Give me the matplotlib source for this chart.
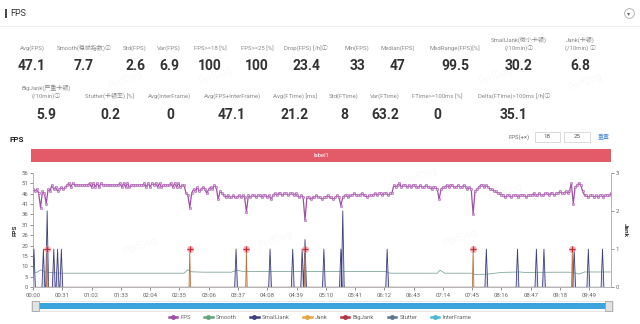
import numpy as np
import matplotlib
matplotlib.use('Agg')
import matplotlib.pyplot as plt
from matplotlib.patches import Rectangle
from matplotlib.lines import Line2D

plt.rcParams['font.family'] = ['Roboto', 'Noto Sans CJK SC', 'DejaVu Sans']

W, H = 640, 324

# ---- summary numbers (top panel) ----
row1_labels = ['Avg(FPS)', 'Smooth(稳帧指数)ⓘ', 'Std(FPS)', 'Var(FPS)', 'FPS>=18 [%]',
               'FPS>=25 [%]', 'Drop(FPS) [/h]ⓘ', 'Min(FPS)', 'Median(FPS)',
               'MedRange(FPS)[%]', 'SmallJank(微小卡顿)\n(/10min)ⓘ', 'Jank(卡顿)\n(/10min) ⓘ']
row1_values = ['47.1', '7.7', '2.6', '6.9', '100', '100', '23.4', '33', '47', '99.5', '30.2', '6.8']

row2_labels = ['BigJank(严重卡顿)\n(/10min)ⓘ', 'Stutter(卡顿率) [%]', 'Avg(InterFrame)',
               'Avg(FPS+InterFrame)', 'Avg(FTime) [ms]', 'Std(FTime)', 'Var(FTime)',
               'FTime>=100ms [%]', 'Delta(FTime)>100ms [/h]ⓘ']
row2_values = ['5.9', '0.2', '0', '47.1', '21.2', '8', '63.2', '0', '35.1']

# ---- FPS series, one sample every 2 s (0 .. 612 s) ----
fps = [
    48, 47, 48, 46, 39, 47, 46, 41, 48, 47, 50, 48, 49, 47, 48,
    49, 48, 49, 50, 51, 49, 51, 50, 50, 50, 50, 50, 50, 50, 50,
    51, 49, 51, 49, 51, 49, 51, 50, 50, 50, 50, 50, 50, 50, 50,
    50, 51, 49, 51, 49, 51, 49, 50, 50, 50, 50, 50, 50, 50, 51,
    49, 51, 49, 51, 50, 51, 49, 51, 49, 50, 50, 50, 50, 51, 49,
    51, 49, 51, 49, 50, 50, 46, 45, 39, 46, 48, 47, 49, 47, 48,
    49, 48, 46, 48, 49, 48, 50, 49, 43, 47, 46, 45, 44, 45, 44,
    44, 45, 44, 44, 45, 44, 45, 44, 37, 45, 44, 45, 45, 44, 45,
    45, 44, 45, 45, 44, 45, 43, 45, 46, 45, 46, 46, 45, 46, 46,
    45, 46, 46, 45, 46, 45, 44, 45, 44, 33, 44, 44, 43, 44, 44,
    45, 44, 44, 43, 44, 44, 45, 44, 44, 43, 44, 45, 44, 40, 44,
    45, 45, 44, 45, 45, 46, 45, 45, 45, 46, 45, 45, 44, 45, 45,
    45, 46, 45, 46, 46, 45, 46, 46, 45, 46, 46, 50, 49, 50, 51,
    49, 50, 50, 49, 50, 49, 50, 50, 49, 49, 50, 49, 49, 50, 49,
    49, 48, 49, 49, 48, 43, 48, 49, 49, 50, 49, 50, 50, 49, 49,
    50, 49, 49, 50, 49, 48, 49, 48, 36, 47, 48, 49, 50, 50, 49,
    50, 49, 48, 48, 47, 47, 46, 46, 45, 45, 44, 45, 45, 44, 45,
    45, 45, 44, 45, 45, 45, 44, 45, 45, 45, 46, 45, 45, 46, 45,
    45, 46, 46, 45, 46, 46, 45, 46, 46, 47, 46, 46, 47, 46, 47,
    51, 41, 49, 50, 51, 50, 47, 45, 45, 44, 45, 45, 44, 45, 44,
    45, 45, 44, 45, 45, 45, 46,
]
fps_t = np.arange(len(fps)) * 2

# Smooth (left axis), read at irregular times
smooth_t = [0, 4, 8, 12, 20, 30, 100, 160, 164, 168, 180, 210, 216, 222, 300, 374, 378, 428, 431, 436,
            464, 468, 480, 497, 516, 520, 566, 572, 578, 584, 612]
smooth_v = [7.5, 7.3, 8.5, 7.5, 7.2, 6.9, 6.9, 6.9, 8.6, 7.6, 7.4, 7.4, 8.3, 7.8, 7.7, 7.7, 6.9, 6.9, 8.4, 6.9,
            6.9, 6.3, 6.4, 7.3, 7.5, 7.3, 7.4, 7.3, 6.5, 7.5, 7.5]

# Jank events (right axis): time in s, count
small_jank_t = [1, 11, 15, 22, 26, 30, 215, 251, 275, 285, 288, 308, 326, 328, 375,
                480, 513, 533, 541, 573, 588, 603]
small_jank_n = [1, 1, 2, 1, 1, 1, 1, 1, 1, 1, 1.25, 1, 1, 2, 1,
                1, 1, 1, 1, 1, 1, 1]
jank_t = [15, 166, 226, 288, 466, 571]
big_jank_t = [15, 166, 226, 288, 466, 571]

time_labels = ['00:00', '00:31', '01:02', '01:33', '02:04', '02:35', '03:06', '03:37', '04:08', '04:39',
               '05:10', '05:41', '06:12', '06:43', '07:14', '07:45', '08:16', '08:47', '09:18', '09:49']
fps_tick_labels = ['0', '5', '10', '15', '20', '26', '31', '36', '41', '46', '51', '56']

series_names = ['FPS', 'Smooth', 'SmallJank', 'Jank', 'BigJank', 'Stutter', 'InterFrame']
series_colors = ['#a14ea6', '#62a77a', '#3d3f7f', '#e6a542', '#b8323f', '#5f7690', '#4cb6dc']


def fx(x):
    return x / W


def fy(y):
    return 1 - y / H


fig = plt.figure(figsize=(6.4, 3.24), dpi=100)
fig.patch.set_facecolor('white')

# ---- header ----
fig.add_artist(Rectangle((fx(5), fy(18)), 1.5 / W, 9 / H, transform=fig.transFigure,
                         color='#4a4a4a', lw=0))
fig.text(fx(10), fy(13.5), 'FPS', fontsize=6.5, color='#333', va='center', ha='left')
fig.add_artist(Line2D([0, 1], [fy(26), fy(26)], transform=fig.transFigure, color='#eeeeee', lw=0.8))
fig.add_artist(Line2D([fx(629)], [fy(13)], transform=fig.transFigure, marker='o', ms=7,
                      mfc='none', mec='#aaaaaa', mew=0.6))
fig.text(fx(629), fy(13.3), '▾', fontsize=4.5, color='#666', ha='center', va='center')

# ---- stats ----
x_row1 = [32, 84, 135, 169, 210, 257, 306, 357, 398, 455, 519, 580]
x_row2 = [46, 110, 170, 232, 295, 344, 385, 437, 514]
for lab, val, x in zip(row1_labels, row1_values, x_row1):
    fig.text(fx(x), fy(51), lab, fontsize=4.3, color='#888', ha='center', va='bottom',
             linespacing=1.35)
    fig.text(fx(x), fy(66.5), val, fontsize=10, color='#333', weight='bold',
             ha='center', va='center')
for lab, val, x in zip(row2_labels, row2_values, x_row2):
    fig.text(fx(x), fy(99.5), lab, fontsize=4.3, color='#888', ha='center', va='bottom',
             linespacing=1.35)
    fig.text(fx(x), fy(115), val, fontsize=10, color='#333', weight='bold',
             ha='center', va='center')

# ---- chart header ----
fig.text(fx(10), fy(139), 'FPS', fontsize=5.8, color='#222', weight='bold', va='center')
fig.text(fx(530), fy(137), 'FPS(+×)', fontsize=4.2, color='#666', ha='right', va='center')
for x0, x1, txt in [(535, 560, '18'), (564, 590, '25')]:
    fig.add_artist(Rectangle((fx(x0), fy(142)), (x1 - x0) / W, 10 / H, transform=fig.transFigure,
                             facecolor='white', edgecolor='#cccccc', lw=0.5))
    fig.text(fx((x0 + x1) / 2), fy(137), txt, fontsize=4.5, color='#555', ha='center', va='center')
fig.text(fx(604), fy(137), '重置', fontsize=4.3, color='#4f8fd6', ha='center', va='center')

fig.add_artist(Rectangle((fx(30.5), fy(162)), (611 - 30.5) / W, 13 / H, transform=fig.transFigure,
                         color='#e35b69', lw=0))
fig.text(fx(321), fy(155.5), 'label1', fontsize=4.2, color='white', ha='center', va='center')

# ---- main plot ----
ax = fig.add_axes([fx(33), fy(287.3), 578 / W, 114.6 / H])
ax.set_xlim(0, 612)
ax.set_ylim(0, 56.1)

ax.plot(smooth_t, smooth_v, color='#7fa898', lw=0.6, zorder=2)
ax.plot(fps_t, fps, color=series_colors[0], lw=0.9, marker='o', ms=1.7,
        mfc='#e2b6e4', mec=series_colors[0], mew=0.35, zorder=3)

tick_secs = [int(s[:2]) * 60 + int(s[3:]) for s in time_labels]
ax.set_xticks(tick_secs)
ax.set_xticklabels(time_labels)
ax.set_yticks([i * 5.1 for i in range(len(fps_tick_labels))])
ax.set_yticklabels(fps_tick_labels)
ax.tick_params(axis='both', labelsize=4.3, colors='#666', length=2, width=0.5, pad=1.5)
ax.tick_params(axis='x', pad=2)
ax.set_ylabel('FPS', fontsize=4.6, weight='bold', color='#333', labelpad=3)
for s in ['top', 'right']:
    ax.spines[s].set_visible(False)
for s in ['left', 'bottom']:
    ax.spines[s].set_color('#aaaaaa')
    ax.spines[s].set_linewidth(0.6)

ax2 = ax.twinx()
ax2.set_ylim(0, 3)
ax2.set_xlim(0, 612)

# spikes: small triangles around each event
sx, sy = [], []
for t, n in zip(small_jank_t, small_jank_n):
    sx += [t - 1.5, t, t + 1.5]
    sy += [0, n, 0]
ax2.fill(sx, sy, color='#b9bbe6', alpha=0.6, lw=0)
ax2.plot(sx, sy, color=series_colors[2], lw=0.6)

jx, jy = [], []
for t in jank_t:
    jx += [t - 0.8, t, t + 0.8]
    jy += [0, 1, 0]
ax2.fill(jx, jy, color='#f2c98a', alpha=0.6, lw=0)
ax2.plot(jx, jy, color='#b9774a', lw=0.6)

ax2.scatter(big_jank_t, [1] * len(big_jank_t), s=26, color='#f4a3a8', alpha=0.75, lw=0, zorder=5)
ax2.scatter(big_jank_t, [1] * len(big_jank_t), s=14, marker='+', color='#c8283a', lw=0.9, zorder=6)

ax2.set_yticks([0, 1, 2, 3])
ax2.tick_params(axis='y', labelsize=4.3, colors='#666', length=2, width=0.5, pad=1.5)
ax2.set_ylabel('Jank', fontsize=4.6, weight='bold', color='#333', rotation=270, labelpad=6)
ax2.spines['top'].set_visible(False)
ax2.spines['left'].set_visible(False)
ax2.spines['bottom'].set_visible(False)
ax2.spines['right'].set_color('#aaaaaa')
ax2.spines['right'].set_linewidth(0.6)

# ---- data zoom slider ----
fig.add_artist(Rectangle((fx(31), fy(310.5)), (613 - 31) / W, 9.5 / H, transform=fig.transFigure,
                         facecolor='white', edgecolor='#dddddd', lw=0.5))
fig.add_artist(Rectangle((fx(33), fy(309)), (611 - 33) / W, 6.5 / H, transform=fig.transFigure,
                         color='#3aa5dd', lw=0))
for hx in [31.5, 605]:
    fig.add_artist(Rectangle((fx(hx), fy(310.5)), 7 / W, 9.5 / H, transform=fig.transFigure,
                             facecolor='#e2e2e2', edgecolor='#999999', lw=0.5))

# ---- legend ----
handles = [Line2D([], [], color=c, lw=1.8, marker='o', ms=2.5) for c in series_colors]
fig.legend(handles, series_names, loc='center', bbox_to_anchor=(0.5, fy(317)), ncol=7,
           fontsize=4.3, frameon=False, handlelength=1.4, handletextpad=0.6, columnspacing=2.2,
           labelcolor='#666')

# faint watermarks
for (x, y) in [(125, 80), (215, 76), (495, 76), (585, 82), (140, 246), (275, 240), (420, 176),
               (505, 192), (460, 238)]:
    fig.text(fx(x), fy(y), 'PerfDog', fontsize=7, color='#000', alpha=0.03, rotation=20,
             ha='center', va='center')

fig.savefig('out.png', dpi=100, facecolor='white')
